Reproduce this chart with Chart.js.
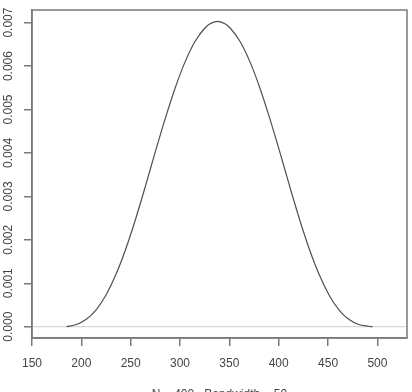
<!DOCTYPE html>
<html>
<head>
<meta charset="utf-8">
<script src="https://cdn.jsdelivr.net/npm/chart.js@4"></script>
<style>
html,body{margin:0;padding:0;background:#fff;}
#wrap{width:412px;height:392px;position:relative;}
</style>
</head>
<body>
<div id="wrap"><canvas id="c" width="412" height="392"></canvas></div>
<script>
// Density estimate
const densityX = [185,195,205,215,225,235,245,255,265,275,285,295,305,315,325,330,338,346,351,361,371,381,391,401,411,421,431,441,451,461,471,481,491,495];
const densityY = [0.00000,0.00005,0.00017,0.00039,0.00073,0.00120,0.00179,0.00248,0.00324,0.00403,0.00479,0.00549,0.00609,0.00656,0.00687,0.00697,0.00703,0.00697,0.00687,0.00656,0.00609,0.00549,0.00479,0.00403,0.00324,0.00248,0.00179,0.00120,0.00073,0.00039,0.00017,0.00005,0.00001,0.00000];
const xTicks = [150,200,250,300,350,400,450,500];
const yTicks = [0.000,0.001,0.002,0.003,0.004,0.005,0.006,0.007];
const xRange = [150,530];
const yRange = [-0.00026,0.00729];
const xTitle = 'N = 400   Bandwidth = 50';

const FONT = "'Liberation Sans', Arial, sans-serif";
const AXIS = '#7a7a7a';
const TEXT = '#444444';

const boxPlugin = {
  id: 'rbox',
  afterDraw(chart) {
    const {ctx, chartArea: a} = chart;
    ctx.save();
    ctx.strokeStyle = AXIS;
    ctx.lineWidth = 1.5;
    ctx.strokeRect(a.left, a.top, a.right - a.left, a.bottom - a.top);
    ctx.fillStyle = TEXT;
    ctx.font = '12px ' + FONT;
    ctx.textAlign = 'center';
    ctx.textBaseline = 'middle';
    ctx.fillText(xTitle, (a.left + a.right) / 2, 395);
    ctx.restore();
  }
};

new Chart(document.getElementById('c'), {
  type: 'line',
  data: {
    datasets: [
      {
        label: 'zero',
        data: [{x: xRange[0], y: 0}, {x: xRange[1], y: 0}],
        borderColor: '#cfcfcf',
        borderWidth: 1,
        pointRadius: 0,
        order: 2
      },
      {
        label: 'density',
        data: densityX.map((x, i) => ({x: x, y: densityY[i]})),
        borderColor: '#505050',
        borderWidth: 1.2,
        pointRadius: 0,
        cubicInterpolationMode: 'monotone',
        order: 1
      }
    ]
  },
  options: {
    responsive: false,
    animation: false,
    layout: {padding: {top: 10, right: 5, left: 0, bottom: 0}},
    plugins: {legend: {display: false}, tooltip: {enabled: false}},
    scales: {
      x: {
        type: 'linear',
        min: xRange[0],
        max: xRange[1],
        afterBuildTicks: s => { s.ticks = xTicks.map(v => ({value: v})); },
        afterFit: s => { s.height = 54; },
        grid: {drawOnChartArea: false, drawTicks: true, tickLength: 8, color: AXIS, lineWidth: 1.5},
        border: {display: true, color: AXIS, width: 1.5},
        ticks: {
          color: TEXT,
          font: {family: FONT, size: 12},
          padding: 10,
          maxRotation: 0,
          callback: v => String(v)
        }
      },
      y: {
        type: 'linear',
        min: yRange[0],
        max: yRange[1],
        afterBuildTicks: s => { s.ticks = yTicks.map(v => ({value: v})); },
        afterFit: s => { s.width = 32; },
        grid: {drawOnChartArea: false, drawTicks: true, tickLength: 8, color: AXIS, lineWidth: 1.5},
        border: {display: true, color: AXIS, width: 1.5},
        ticks: {
          color: TEXT,
          font: {family: FONT, size: 12},
          padding: 0,
          minRotation: 90,
          maxRotation: 90,
          crossAlign: 'center',
          callback: v => Number(v).toFixed(3)
        }
      }
    }
  },
  plugins: [boxPlugin]
});
</script>
</body>
</html>
